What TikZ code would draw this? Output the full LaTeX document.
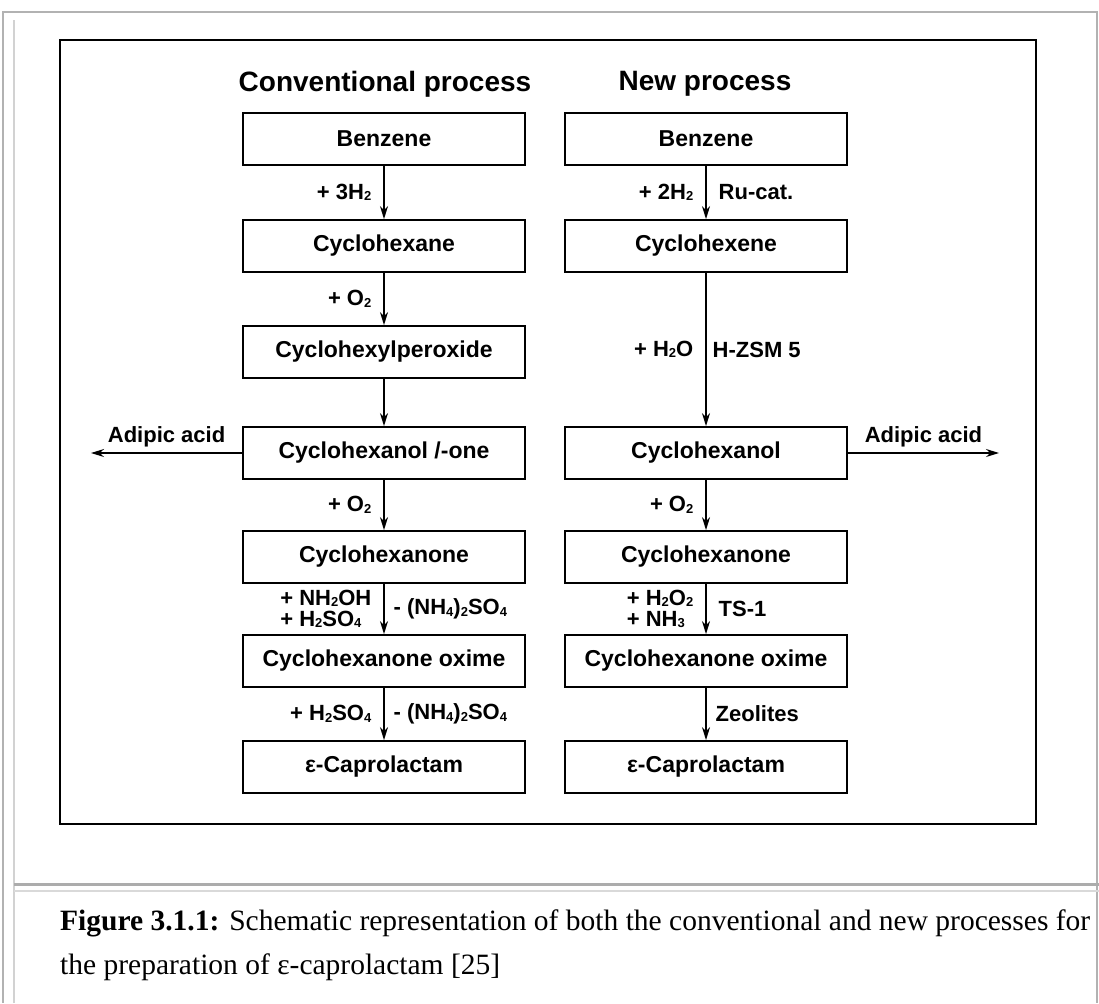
\documentclass[tikz,border=0pt]{standalone}
\usepackage{fontspec}
\setmainfont{Liberation Serif}
\setsansfont{Liberation Sans}
\usetikzlibrary{arrows.meta,positioning}

% small index figures as in the formulas
\newcommand{\ix}[1]{\raisebox{-1.5pt}{\fontsize{13}{13}\selectfont #1}}

\begin{document}
\begin{tikzpicture}[x=1pt, y=-1pt,
    procbox/.style={draw, line width=1.8pt, minimum width=282pt, minimum height=52pt, inner sep=0pt,
        font=\sffamily\bfseries\fontsize{23}{20}\selectfont},
    headline/.style={inner sep=0pt, font=\sffamily\bfseries\fontsize{28}{30}\selectfont},
    reag/.style={inner sep=0pt, align=left, font=\sffamily\bfseries\fontsize{22}{21}\selectfont},
    flow/.style={-{Stealth[length=13pt,width=8pt]}, line width=1.4pt},
    captext/.style={anchor=base west, inner sep=0pt, font=\fontsize{29.5}{30}\selectfont}]
    \useasboundingbox (0,0) rectangle (1099,1003);

    % page frame and cell divider
    \draw[gray!60, line width=2.5pt] (3,1003) -- (3,12) -- (1097,12) -- (1097,1003);
    \draw[gray!35, line width=1.5pt] (14,1003) -- (14,20);
    \draw[gray!65, line width=3pt] (14,884) -- (1099,884);
    \draw[gray!30, line width=2pt] (14,891) -- (1099,891);

    % figure frame
    \draw[line width=2pt] (60,40) rectangle (1036,824);

    \node[headline] (tconv) at (385,84) {Conventional process};
    \node[headline] (tnew) at (705,84) {New process};

    % conventional route
    \node[procbox] (lbenz) at (384,139) {Benzene};
    \node[procbox] (lhexa) at (384,246) {Cyclohexane};
    \node[procbox] (lperox) at (384,352) {Cyclohexylperoxide};
    \node[procbox] (lanol) at (384,453) {Cyclohexanol /-one};
    \node[procbox] (lanon) at (384,557) {Cyclohexanone};
    \node[procbox] (loxim) at (384,661) {Cyclohexanone oxime};
    \node[procbox] (lcapr) at (384,767) {ε-Caprolactam};

    % new route
    \node[procbox] (rbenz) at (706,139) {Benzene};
    \node[procbox] (rhexe) at (706,246) {Cyclohexene};
    \node[procbox] (ranol) at (706,453) {Cyclohexanol};
    \node[procbox] (ranon) at (706,557) {Cyclohexanone};
    \node[procbox] (roxim) at (706,661) {Cyclohexanone oxime};
    \node[procbox] (rcapr) at (706,767) {ε-Caprolactam};

    \coordinate (ladip) at (91,453);
    \coordinate (radip) at (999,453);

    \path[flow]
        (lbenz) edge node[reag, left=12pt] {+ 3H\ix{2}} (lhexa)
        (lhexa) edge node[reag, left=12pt] {+ O\ix{2}} (lperox)
        (lperox) edge (lanol)
        (lanol) edge node[reag, left=12pt] {+ O\ix{2}} (lanon)
        (lanon) edge node[reag, left=12pt] {+ NH\ix{2}OH\\+ H\ix{2}SO\ix{4}}
                     node[reag, right=9pt] {- (NH\ix{4})\ix{2}SO\ix{4}} (loxim)
        (loxim) edge node[reag, left=12pt] {+ H\ix{2}SO\ix{4}}
                     node[reag, right=9pt] {- (NH\ix{4})\ix{2}SO\ix{4}} (lcapr)
        (lanol.west) edge node[reag, above=5pt] {Adipic acid} (ladip);

    \path[flow]
        (rbenz) edge node[reag, left=12pt] {+ 2H\ix{2}}
                     node[reag, right=12pt] {Ru-cat.} (rhexe)
        (rhexe) edge node[reag, left=12pt] {+ H\ix{2}O}
                     node[reag, right=6pt] {H-ZSM 5} (ranol)
        (ranol) edge node[reag, left=12pt] {+ O\ix{2}} (ranon)
        (ranon) edge node[reag, left=12pt] {+ H\ix{2}O\ix{2}\\+ NH\ix{3}}
                     node[reag, right=12pt] {TS-1} (roxim)
        (roxim) edge node[reag, right=9pt] {Zeolites} (rcapr)
        (ranol.east) edge node[reag, above=5pt] {Adipic acid} (radip);

    \node[captext] (capa) at (60,930) {\textbf{Figure 3.1.1:} Schematic representation of both the conventional and new processes for};
    \node[captext] (capb) at (60,974) {the preparation of ε-caprolactam [25]};
\end{tikzpicture}
\end{document}
